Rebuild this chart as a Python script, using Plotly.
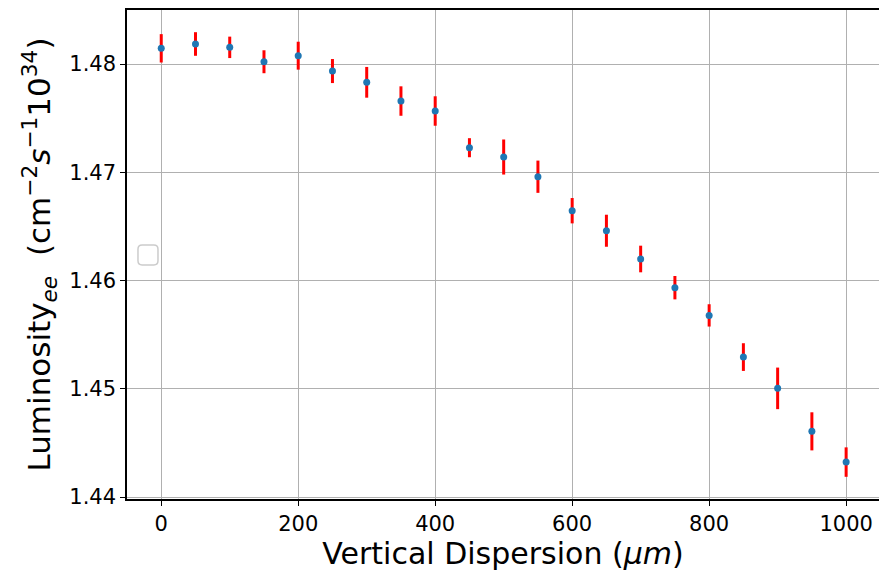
import plotly.graph_objects as go

# Vertical dispersion scan (um) and the resulting e+e- luminosity (10^34 cm^-2 s^-1)
dispersion_um = [0, 50, 100, 150, 200, 250, 300, 350, 400, 450, 500,
                 550, 600, 650, 700, 750, 800, 850, 900, 950, 1000]
luminosity = [1.48145, 1.48185, 1.48154, 1.48021, 1.48077, 1.47935, 1.47831,
              1.47658, 1.47566, 1.47227, 1.47141, 1.46959, 1.46645, 1.46460,
              1.46199, 1.45934, 1.45678, 1.45293, 1.45004, 1.44607, 1.44323]
luminosity_err = [0.00131, 0.00109, 0.00099, 0.00106, 0.00129, 0.00111, 0.00142,
                  0.00136, 0.00136, 0.00088, 0.00162, 0.00149, 0.00117, 0.00148,
                  0.00123, 0.00108, 0.00103, 0.00128, 0.00192, 0.00176, 0.00136]

x_ticks = [0, 200, 400, 600, 800, 1000]
y_ticks = [1.44, 1.45, 1.46, 1.47, 1.48]

FONT = "DejaVu Sans"

fig = go.Figure()
fig.add_trace(go.Scatter(
    x=dispersion_um,
    y=luminosity,
    mode="markers",
    marker=dict(color="#1f77b4", size=7),
    error_y=dict(type="data", array=luminosity_err, visible=True,
                 color="red", thickness=3, width=0),
    showlegend=False,
))

# empty legend frame drawn in the left margin of the axes
x0, x1, y0, y1 = 0.0146, 0.0412, 0.4785, 0.5194
rx, ry = 0.0055, 0.0085
legend_path = (
    f"M {x0+rx},{y0} L {x1-rx},{y0} Q {x1},{y0} {x1},{y0+ry} "
    f"L {x1},{y1-ry} Q {x1},{y1} {x1-rx},{y1} "
    f"L {x0+rx},{y1} Q {x0},{y1} {x0},{y1-ry} "
    f"L {x0},{y0+ry} Q {x0},{y0} {x0+rx},{y0} Z"
)
fig.add_shape(type="path", path=legend_path, xref="paper", yref="paper",
              line=dict(color="#cccccc", width=1.5), fillcolor="white")

fig.update_layout(
    width=879, height=575,
    margin=dict(l=127, r=0, t=10, b=76),
    paper_bgcolor="white", plot_bgcolor="white",
    font=dict(family=FONT, color="black"),
    xaxis=dict(
        range=[-50, 1048],
        tickvals=x_ticks, ticktext=[str(v) for v in x_ticks],
        ticks="outside", ticklen=5, tickwidth=1, tickcolor="black",
        tickfont=dict(size=21, family=FONT),
        showline=True, linecolor="black", linewidth=1.5, mirror=True,
        showgrid=True, gridcolor="#b0b0b0", gridwidth=1,
        zeroline=False,
        title=dict(text="Vertical Dispersion (<i>μm</i>)",
                   font=dict(size=30, family=FONT), standoff=7),
    ),
    yaxis=dict(
        range=[1.43982, 1.48499],
        tickvals=y_ticks, ticktext=[f"{v:.2f}" for v in y_ticks],
        ticks="outside", ticklen=5, tickwidth=1, tickcolor="black",
        tickfont=dict(size=21, family=FONT),
        showline=True, linecolor="black", linewidth=1.5, mirror=False,
        showgrid=True, gridcolor="#b0b0b0", gridwidth=1,
        zeroline=False,
        title=dict(text="Luminosity<sub><i>ee</i></sub>  (cm<sup>−2</sup><i>s</i><sup>−1</sup>10<sup>34</sup>)",
                   font=dict(size=31, family=FONT), standoff=9),
    ),
)

fig.write_html("out.html")
